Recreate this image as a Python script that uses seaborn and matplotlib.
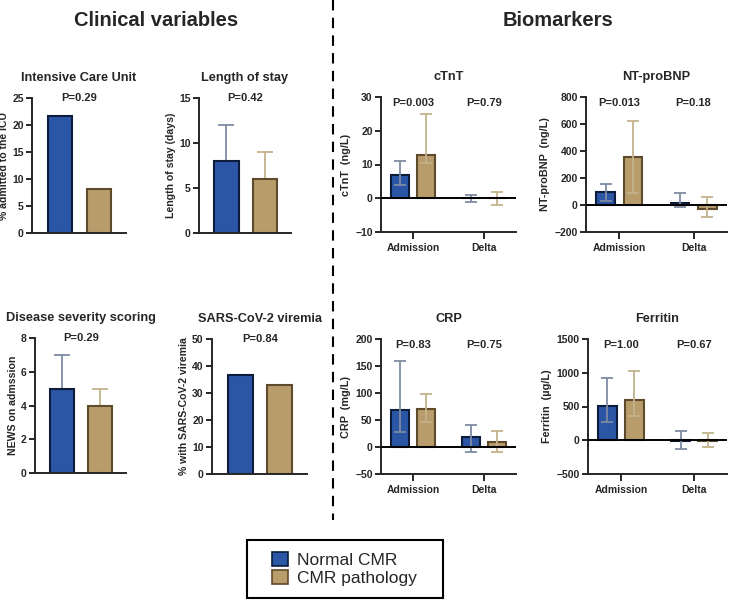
import numpy as np
import pandas as pd
import matplotlib
matplotlib.use("Agg")
import matplotlib.pyplot as plt
import seaborn as sns
from matplotlib.patches import Patch, Rectangle
from matplotlib.lines import Line2D

sns.set_style("ticks")
plt.rcParams['font.family'] = ['Liberation Sans', 'DejaVu Sans']

# ---------------- data ----------------
groups = ["Normal CMR", "CMR pathology"]
categories = ["Admission", "Delta"]

icu_pct = [21.6, 8.2]
los_median = [8, 6]
los_upper = [12, 9]
news_median = [5, 4]
news_upper = [7, 5]
viremia_pct = [36.5, 33]

ctnt_normal = [6.8, 0.0]
ctnt_normal_lo = [3.8, -1.1]
ctnt_normal_hi = [11, 0.9]
ctnt_path = [12.9, 0.0]
ctnt_path_lo = [10.5, -2]
ctnt_path_hi = [25, 2]

ntbnp_normal = [95, 12]
ntbnp_normal_lo = [27, -15]
ntbnp_normal_hi = [157, 92]
ntbnp_path = [357, -32]
ntbnp_path_lo = [87, -92]
ntbnp_path_hi = [620, 57]

crp_normal = [69, 19]
crp_normal_lo = [28, -9]
crp_normal_hi = [159, 40]
crp_path = [71, 9]
crp_path_lo = [47, -8.5]
crp_path_hi = [99, 30]

ferritin_normal = [505, -15]
ferritin_normal_lo = [265, -123]
ferritin_normal_hi = [917, 137]
ferritin_path = [590, -8]
ferritin_path_lo = [353, -98]
ferritin_path_hi = [1030, 103]

# ---------------- style ----------------
fill = {"Normal CMR": "#2b55a5", "CMR pathology": "#b89c6c"}
edge = {"Normal CMR": "#0e1c3c", "CMR pathology": "#5e4b2b"}
errc = {"Normal CMR": "#7d8ba2", "CMR pathology": "#c3b28c"}

W, H = 730, 600
fig = plt.figure(figsize=(W / 100, H / 100), dpi=100)


def add_ax(l, r, t, b):
    return fig.add_axes([l / W, 1 - b / H, (r - l) / W, (b - t) / H])


def style_axis(ax):
    sns.despine(ax=ax)
    for s in ("left", "bottom"):
        ax.spines[s].set_linewidth(1.4)
    ax.tick_params(axis="both", width=1.4, length=4, labelsize=7.5, pad=2)
    for lab in ax.get_yticklabels() + ax.get_xticklabels():
        lab.set_fontweight("bold")


def color_bars(ax, order):
    for p, g in zip(ax.patches, order):
        p.set_facecolor(fill[g])
        p.set_edgecolor(edge[g])
        p.set_linewidth(1.5)
        p.set_zorder(2)


def clinical(ax, vals, upper, ylim, step, title, ylabel, ptxt):
    df = pd.DataFrame({"group": groups, "value": vals})
    sns.barplot(data=df, x="group", y="value", hue="group", palette=fill,
                width=0.63, legend=False, ax=ax, errorbar=None)
    color_bars(ax, groups)
    if upper is not None:
        for i, g in enumerate(groups):
            ax.errorbar([i], [vals[i]], yerr=[[0], [upper[i] - vals[i]]], fmt="none",
                        ecolor=errc[g], elinewidth=1.3, capsize=6, capthick=1.3, zorder=1.5)
    ax.set_xlim(-0.72, 1.69)
    ax.set_ylim(*ylim)
    ax.set_yticks(np.arange(ylim[0], ylim[1] + step / 2, step))
    ax.set_xticks([])
    ax.set_xlabel("")
    ax.set_ylabel(ylabel, fontsize=7.6, fontweight="bold", labelpad=2)
    ax.set_title(title, fontsize=9.2, fontweight="bold", pad=12)
    ax.text(0.5, ylim[1], ptxt, ha="center", va="center", fontsize=8, fontweight="bold")
    style_axis(ax)


def biomarker(ax, normal, nlo, nhi, path, plo, phi, ylim, step, title, ylabel, ptxts):
    df = pd.DataFrame({
        "cat": categories * 2,
        "group": [groups[0]] * 2 + [groups[1]] * 2,
        "value": list(normal) + list(path),
    })
    sns.barplot(data=df, x="cat", y="value", hue="group", palette=fill,
                width=0.74, gap=0.32, legend=False, ax=ax, errorbar=None)
    color_bars(ax, [groups[0]] * 2 + [groups[1]] * 2)
    offs = {groups[0]: -0.185, groups[1]: 0.185}
    for g, med, lo, hi in ((groups[0], normal, nlo, nhi), (groups[1], path, plo, phi)):
        for i in range(2):
            ax.errorbar([i + offs[g]], [med[i]], yerr=[[med[i] - lo[i]], [hi[i] - med[i]]],
                        fmt="none", ecolor=errc[g], elinewidth=1.3, capsize=4.5,
                        capthick=1.3, zorder=3)
    ax.axhline(0, color="black", lw=1.4, zorder=4)
    ax.set_xlim(-0.45, 1.45)
    ax.set_ylim(*ylim)
    ax.set_yticks(np.arange(ylim[0], ylim[1] + step / 2, step))
    ax.set_xlabel("")
    ax.set_ylabel(ylabel, fontsize=7.8, fontweight="bold", labelpad=3)
    ax.set_title(title, fontsize=9.2, fontweight="bold", pad=12)
    for i, t in enumerate(ptxts):
        ax.text(i, ylim[1] - 0.045 * (ylim[1] - ylim[0]), t, ha="center", va="center",
                fontsize=8, fontweight="bold")
    style_axis(ax)
    ax.tick_params(axis="x", length=5, pad=3)


clinical(add_ax(32, 126, 98, 233), icu_pct, None, (0, 25), 5,
         "Intensive Care Unit", "% admitted to the ICU", "P=0.29")
clinical(add_ax(199, 291, 98, 233), los_median, los_upper, (0, 15), 5,
         "Length of stay", "Length of stay (days)", "P=0.42")
clinical(add_ax(35, 126, 338, 473), news_median, news_upper, (0, 8), 2,
         "Disease severity scoring", "NEWS on admssion", "P=0.29")
clinical(add_ax(212, 307, 339, 474), viremia_pct, None, (0, 50), 10,
         "SARS-CoV-2 viremia", "% with SARS-CoV-2 viremia", "P=0.84")

biomarker(add_ax(381, 516, 97, 232), ctnt_normal, ctnt_normal_lo, ctnt_normal_hi,
          ctnt_path, ctnt_path_lo, ctnt_path_hi, (-10, 30), 10,
          "cTnT", "cTnT  (ng/L)", ["P=0.003", "P=0.79"])
biomarker(add_ax(586, 727, 97, 232), ntbnp_normal, ntbnp_normal_lo, ntbnp_normal_hi,
          ntbnp_path, ntbnp_path_lo, ntbnp_path_hi, (-200, 800), 200,
          "NT-proBNP", "NT-proBNP  (ng/L)", ["P=0.013", "P=0.18"])
biomarker(add_ax(381, 516, 339, 474), crp_normal, crp_normal_lo, crp_normal_hi,
          crp_path, crp_path_lo, crp_path_hi, (-50, 200), 50,
          "CRP", "CRP  (mg/L)", ["P=0.83", "P=0.75"])
biomarker(add_ax(588, 727, 339, 474), ferritin_normal, ferritin_normal_lo, ferritin_normal_hi,
          ferritin_path, ferritin_path_lo, ferritin_path_hi, (-500, 1500), 500,
          "Ferritin", "Ferritin  (\u00b5g/L)", ["P=1.00", "P=0.67"])

# section headings and divider
fig.text(156 / W, 1 - 21 / H, "Clinical variables", ha="center", va="center",
         fontsize=14.5, fontweight="bold")
fig.text(558 / W, 1 - 21 / H, "Biomarkers", ha="center", va="center",
         fontsize=14.5, fontweight="bold")
fig.add_artist(Line2D([333 / W, 333 / W], [1.0, 1 - 520 / H], transform=fig.transFigure,
                      color="black", lw=1.5, linestyle=(0, (5, 3.5))))

# legend
fig.add_artist(Rectangle((247 / W, 1 - 598 / H), (443 - 247) / W, (598 - 540) / H,
                         transform=fig.transFigure, fill=False, edgecolor="black", lw=1.5))
handles = [Patch(facecolor=fill[g], edgecolor=edge[g], linewidth=1.2) for g in groups]
fig.legend(handles, groups, loc="center left", bbox_to_anchor=(272 / W, 1 - 569 / H),
           frameon=False, fontsize=12.5, handlelength=0.9, handleheight=0.9,
           handletextpad=0.55, labelspacing=0.1, borderpad=0, borderaxespad=0)

fig.savefig("out.png", dpi=100)
